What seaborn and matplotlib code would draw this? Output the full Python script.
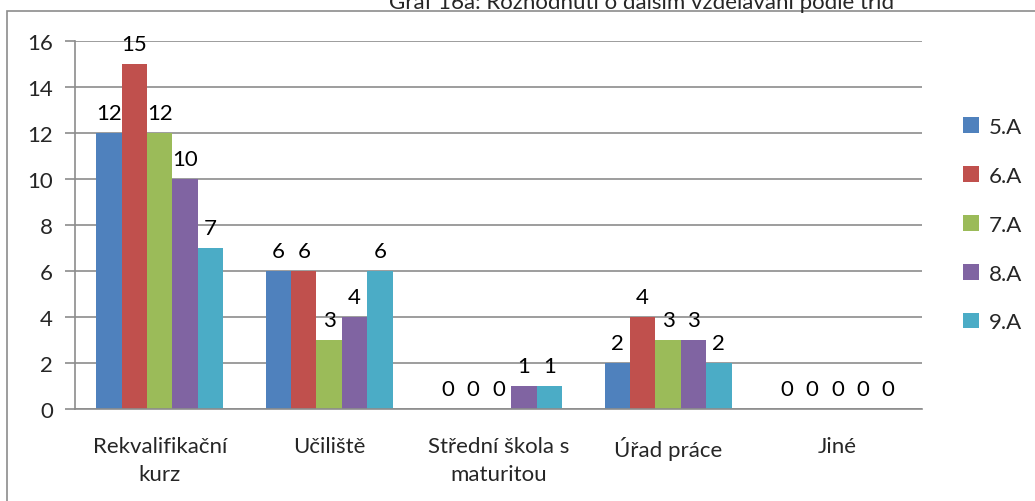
import pandas as pd
import seaborn as sns
import matplotlib.pyplot as plt
from matplotlib.patches import Rectangle

categories = ['Rekvalifikační\nkurz', 'Učiliště', 'Střední škola s\nmaturitou', 'Úřad práce', 'Jiné']
classes = ['5.A', '6.A', '7.A', '8.A', '9.A']
values_5a = [12, 6, 0, 2, 0]
values_6a = [15, 6, 0, 4, 0]
values_7a = [12, 3, 0, 3, 0]
values_8a = [10, 4, 1, 3, 0]
values_9a = [7, 6, 1, 2, 0]
colors = ['#4F81BD', '#C0504D', '#9BBB59', '#8064A2', '#4BACC6']
title = 'Graf 16a: Rozhodnutí o dalším vzdělávání podle tříd'

series = [values_5a, values_6a, values_7a, values_8a, values_9a]
rows = []
for cls, vals in zip(classes, series):
    for cat, v in zip(categories, vals):
        rows.append({'kategorie': cat, 'trida': cls, 'pocet': v})
data = pd.DataFrame(rows)

sns.set_style('white')
plt.rcParams['font.family'] = ['Lato', 'DejaVu Sans']

fig = plt.figure(figsize=(10.35, 5.02), dpi=100)
ax = fig.add_axes([0.0725, 0.184, 0.8185, 0.733])

sns.barplot(data=data, x='kategorie', y='pocet', hue='trida', order=categories,
            hue_order=classes, palette=colors, width=0.75, gap=0,
            saturation=1, edgecolor='none', ax=ax)

for cont in ax.containers:
    ax.bar_label(cont, padding=7, fontsize=16, color='black')

ax.set_ylim(0, 16)
ax.set_yticks(range(0, 17, 2))
ax.set_xlim(-0.5, len(categories) - 0.5)
ax.yaxis.grid(True, color='#8c8c8c', linewidth=1.2)
ax.set_axisbelow(True)
ax.set_xlabel('')
ax.set_ylabel('')
for side in ['top', 'right']:
    ax.spines[side].set_visible(False)
for side in ['left', 'bottom']:
    ax.spines[side].set_color('#8c8c8c')
    ax.spines[side].set_linewidth(1.2)

ax.set_xticks([x + 0.5 for x in range(-1, len(categories))], minor=True)
ax.tick_params(axis='x', which='major', length=0, labelsize=16, pad=20)
ax.tick_params(axis='x', which='minor', length=8, width=1.2, color='#8c8c8c', direction='out')
ax.tick_params(axis='y', length=7, width=1.2, color='#8c8c8c', labelsize=16, direction='out',
               left=True, pad=9)
for lab in ax.get_xticklabels():
    lab.set_linespacing(1.45)

ax.legend(loc='center left', bbox_to_anchor=(1.025, 0.5), frameon=False, fontsize=16,
          handlelength=0.7, handleheight=0.7, labelspacing=1.3, handletextpad=0.45)

fig.patches.append(Rectangle((7 / 1035, -0.1), 1.2, 1.1 - 12 / 502, transform=fig.transFigure,
                             fill=False, edgecolor='#8c8c8c', linewidth=1.2))
fig.text(642 / 1035, 1 - 3 / 502, title, ha='center', va='center', fontsize=16)

fig.savefig('out.png', dpi=100)
